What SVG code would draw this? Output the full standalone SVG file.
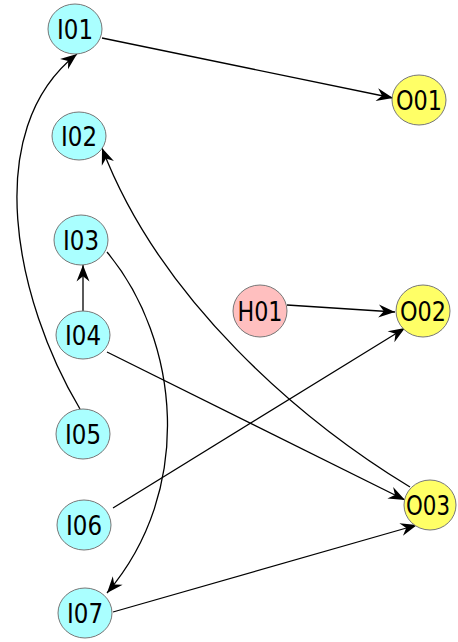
<svg xmlns="http://www.w3.org/2000/svg" width="458" height="642" viewBox="0 0 458 642">
<style>
.n ellipse{stroke:#777;stroke-width:1}
.in ellipse{fill:#aaffff}
.hn ellipse{fill:#ffbfbf}
.on ellipse{fill:#ffff66}
text{font-family:"DejaVu Sans","Liberation Sans",sans-serif;font-size:27px;fill:#000;text-anchor:middle}
.e path{fill:none;stroke:#000;stroke-width:1.3;marker-end:url(#ah)}
</style>
<defs>
<marker id="ah" markerUnits="userSpaceOnUse" markerWidth="20" markerHeight="20" refX="0" refY="0" viewBox="-15 -8 17 16" orient="auto">
<path d="M0,0 L-14,-5.5 L-9.5,0 L-14,5.5 Z" fill="#000"/>
</marker>
</defs>
<g id="edges" class="e">
<path d="M102,38 L393,98"/>
<path d="M80,409 C15,300 -20,130 77,54"/>
<path d="M410,487 C300,420 160,300 102,148"/>
<path d="M83,311 L83,265"/>
<path d="M107,252 C180,340 195,490 107,593"/>
<path d="M287,305 L395,312"/>
<path d="M113,508 L405,328"/>
<path d="M107,352 L405,500"/>
<path d="M113,612 L417,525"/>
</g>
<g id="I01" class="n in"><ellipse cx="75" cy="29" rx="27" ry="25"/><text x="75" y="39" textLength="36" lengthAdjust="spacingAndGlyphs">I01</text></g>
<g id="I02" class="n in"><ellipse cx="79" cy="136" rx="27" ry="24"/><text x="79" y="146" textLength="36" lengthAdjust="spacingAndGlyphs">I02</text></g>
<g id="I03" class="n in"><ellipse cx="81" cy="240" rx="27" ry="25"/><text x="81" y="250" textLength="36" lengthAdjust="spacingAndGlyphs">I03</text></g>
<g id="I04" class="n in"><ellipse cx="83" cy="335" rx="27" ry="24"/><text x="83" y="345" textLength="36" lengthAdjust="spacingAndGlyphs">I04</text></g>
<g id="I05" class="n in"><ellipse cx="83" cy="434" rx="27" ry="25"/><text x="83" y="444" textLength="36" lengthAdjust="spacingAndGlyphs">I05</text></g>
<g id="I06" class="n in"><ellipse cx="84" cy="525" rx="27" ry="25"/><text x="84" y="535" textLength="36" lengthAdjust="spacingAndGlyphs">I06</text></g>
<g id="I07" class="n in"><ellipse cx="85" cy="613" rx="27" ry="25"/><text x="85" y="623" textLength="36" lengthAdjust="spacingAndGlyphs">I07</text></g>
<g id="O01" class="n on"><ellipse cx="419" cy="100" rx="27" ry="25"/><text x="419" y="110" textLength="46" lengthAdjust="spacingAndGlyphs">O01</text></g>
<g id="H01" class="n hn"><ellipse cx="260" cy="311" rx="27" ry="26"/><text x="260" y="321" textLength="45" lengthAdjust="spacingAndGlyphs">H01</text></g>
<g id="O02" class="n on"><ellipse cx="423" cy="311" rx="27" ry="26"/><text x="423" y="321" textLength="46" lengthAdjust="spacingAndGlyphs">O02</text></g>
<g id="O03" class="n on"><ellipse cx="430" cy="505" rx="26" ry="25"/><text x="428" y="515" textLength="44" lengthAdjust="spacingAndGlyphs">O03</text></g>
</svg>
